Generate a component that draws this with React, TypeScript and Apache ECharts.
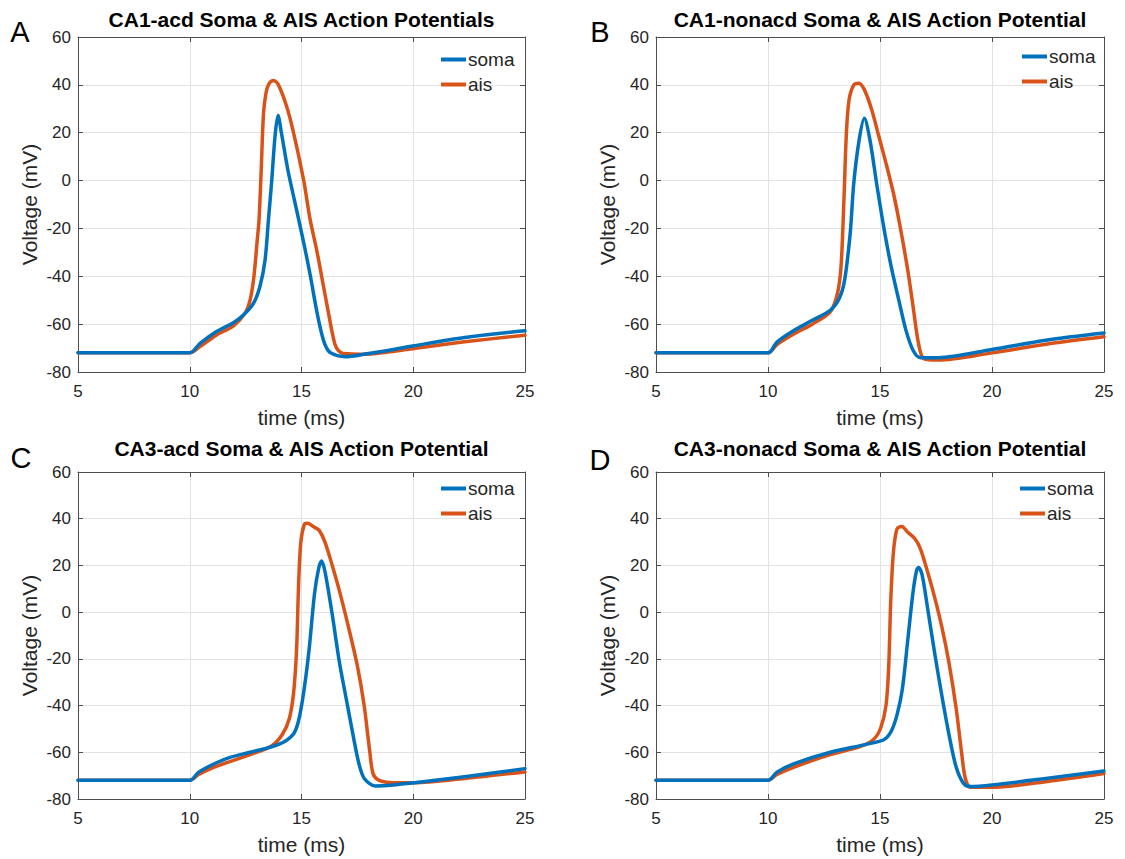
import React, { useEffect, useRef } from "react";
import * as echarts from "echarts";

// ---------- data (time ms, voltage mV) ----------
const titles = [
  "CA1-acd Soma & AIS Action Potentials",
  "CA1-nonacd Soma & AIS Action Potential",
  "CA3-acd Soma & AIS Action Potential",
  "CA3-nonacd Soma & AIS Action Potential",
];
const letters = ["A", "B", "C", "D"];
const seriesNames = ["soma", "ais"];
const xTicks = [5, 10, 15, 20, 25];
const yTicks = [-80, -60, -40, -20, 0, 20, 40, 60];

const somaA = [[5,-72],[10,-72],[10.46,-68],[11.2,-63.1],[11.95,-59.4],[12.4,-56.2],[12.85,-51.3],[13.14,-44.3],[13.37,-33.2],[13.52,-16.5],[13.66,-1],[13.82,19],[13.95,27.2],[14.1,20],[14.4,4],[14.75,-11],[15.1,-26],[15.4,-40],[15.65,-53],[15.85,-62],[16.05,-68.5],[16.3,-72],[16.95,-73.6],[17.92,-72.4],[19.4,-70.1],[20.05,-69],[22.3,-65.6],[25,-62.8]];
const aisA = [[5,-72],[10,-72],[10.46,-69.4],[11.2,-64.5],[11.95,-60.8],[12.47,-55.5],[12.7,-49.9],[12.87,-40.2],[13.02,-24.8],[13.1,-16.5],[13.2,5],[13.3,28],[13.42,37],[13.55,40.5],[13.75,41.8],[13.95,40.3],[14.3,32],[14.62,21],[15.1,0],[15.38,-16],[15.7,-30],[15.98,-44],[16.2,-55],[16.35,-62.4],[16.5,-68.5],[16.65,-71],[16.87,-72.3],[17.92,-72.6],[19.4,-71],[20.05,-70.2],[22.3,-67.4],[25,-64.6]];

const somaB = [[5,-72],[10,-72],[10.4,-67.5],[11.17,-62.6],[11.98,-58.4],[12.78,-54.2],[13.18,-49.3],[13.42,-41.6],[13.67,-22],[13.83,-1],[14.07,17],[14.3,26],[14.55,17],[14.87,-2.5],[15.19,-20.7],[15.5,-36],[15.84,-50],[16.16,-62.6],[16.48,-71],[16.8,-74],[17.6,-74],[20,-70.6],[22.4,-66.7],[25,-63.7]];
const aisB = [[5,-72],[10,-72],[10.4,-68.5],[11.17,-64],[11.98,-60],[12.78,-54.9],[13.1,-47.2],[13.26,-36],[13.39,-8],[13.5,19.8],[13.62,33.8],[13.83,40],[14.04,40.7],[14.3,38],[14.63,29.6],[14.95,18.4],[15.27,7.2],[15.6,-5.3],[15.9,-19.3],[16.24,-37.5],[16.48,-52.8],[16.72,-68.1],[16.96,-74.4],[17.6,-75],[20,-72],[22.4,-68.4],[25,-65.3]];

const somaC = [[5,-72],[10,-72],[10.4,-68.5],[11.1,-64.9],[11.8,-62.2],[12.7,-60],[13.98,-56.6],[14.62,-52.4],[14.86,-46.8],[15.1,-34.2],[15.34,-16],[15.58,7.7],[15.77,18.8],[15.9,21.9],[16.05,17.4],[16.37,-0.7],[16.7,-21.7],[17.0,-37],[17.33,-53.8],[17.57,-64.9],[17.81,-71.2],[18.3,-74.4],[19.1,-74],[20.05,-73],[22.3,-70.5],[25,-67]];
const aisC = [[5,-72],[10,-72],[10.4,-69.5],[11.1,-66.3],[12.7,-61],[13.66,-57.3],[14.14,-52.4],[14.46,-45.4],[14.65,-34.2],[14.78,-16],[14.87,11.8],[14.97,30],[15.13,37.7],[15.26,38.1],[15.58,36.3],[15.8,34.9],[16.05,30],[16.37,20.2],[16.7,9],[17.1,-6.3],[17.5,-23],[17.8,-39.8],[18.05,-59.3],[18.2,-69.1],[18.45,-71.9],[19.1,-73],[20.05,-73],[22.3,-71.2],[25,-68.4]];

const somaD = [[5,-72],[10,-72],[10.4,-68.5],[11.17,-64.9],[12.78,-60],[14.39,-56.6],[15.19,-54.5],[15.5,-51],[15.76,-44],[16.0,-32.8],[16.24,-11.9],[16.48,9],[16.64,18.1],[16.72,19.1],[16.88,16],[17.12,2],[17.44,-17.5],[17.76,-35.7],[18.08,-52.4],[18.4,-66.3],[18.73,-73.3],[19.05,-74.7],[20,-74],[22.4,-71.2],[25,-68]];
const aisD = [[5,-72],[10,-72],[10.4,-69.5],[11.17,-66.3],[12.78,-61],[14.07,-57.7],[14.71,-54.5],[15.03,-49.6],[15.27,-39.8],[15.39,-23],[15.48,4.9],[15.6,25.8],[15.76,35.6],[15.97,36.7],[16.24,34.2],[16.56,31.4],[16.8,27.2],[17.12,17.4],[17.44,6.3],[17.76,-6.3],[18.08,-21.7],[18.4,-41.2],[18.65,-60.7],[18.81,-71.2],[19.05,-75],[20,-75],[22.4,-72.6],[25,-69.1]];

const panelData = [
  [somaA, aisA],
  [somaB, aisB],
  [somaC, aisC],
  [somaD, aisD],
];

// ---------- layout ----------
const FONT = "'Liberation Sans', Arial, Helvetica, sans-serif";
const COLORS = ["#0072BD", "#D95319"];
const grids = [
  { left: 78, top: 37, width: 447, height: 335 },
  { left: 656, top: 37, width: 448, height: 335 },
  { left: 78, top: 472, width: 447, height: 327 },
  { left: 656, top: 472, width: 448, height: 327 },
];
const legendPos = [
  { left: 441, top: 50 },
  { left: 1022, top: 47 },
  { left: 441, top: 479 },
  { left: 1020, top: 479 },
];
const titlePos = [
  { x: 301.5, y: 19 },
  { x: 880, y: 19 },
  { x: 301.5, y: 448 },
  { x: 880, y: 448 },
];
const letterPos = [
  { x: 20, y: 32 },
  { x: 600, y: 32 },
  { x: 21, y: 458 },
  { x: 600, y: 460 },
];

const AXIS_COLOR = "#4d4d4d";
const TEXT_COLOR = "#262626";

function buildOption() {
  const xAxis: any[] = [];
  const yAxis: any[] = [];
  const series: any[] = [];
  const legend: any[] = [];
  const graphic: any[] = [];

  grids.forEach((g, i) => {
    const common = {
      type: "value",
      gridIndex: i,
      axisLine: { show: true, onZero: false, lineStyle: { color: AXIS_COLOR, width: 1 } },
      axisTick: { show: true, inside: true, length: 5, lineStyle: { color: AXIS_COLOR } },
    };
    xAxis.push({
      ...common,
      position: "bottom",
      min: xTicks[0],
      max: xTicks[xTicks.length - 1],
      interval: 5,
      name: "time (ms)",
      nameLocation: "middle",
      nameGap: 35,
      nameTextStyle: { fontFamily: FONT, fontSize: 21, color: TEXT_COLOR },
      axisLabel: { fontFamily: FONT, fontSize: 17, color: TEXT_COLOR, margin: 11, showMinLabel: true, showMaxLabel: true },
      splitLine: { show: true, lineStyle: { color: "#e3e3e3", width: 1 } },
    });
    xAxis.push({
      ...common,
      position: "top",
      min: xTicks[0],
      max: xTicks[xTicks.length - 1],
      interval: 5,
      axisLabel: { show: false },
      splitLine: { show: false },
    });
    yAxis.push({
      ...common,
      position: "left",
      min: yTicks[0],
      max: yTicks[yTicks.length - 1],
      interval: 20,
      name: "Voltage (mV)",
      nameLocation: "middle",
      nameGap: 38,
      nameTextStyle: { fontFamily: FONT, fontSize: 21, color: TEXT_COLOR },
      axisLabel: { fontFamily: FONT, fontSize: 17, color: TEXT_COLOR, margin: 7, showMinLabel: true, showMaxLabel: true },
      splitLine: { show: true, lineStyle: { color: "#e3e3e3", width: 1 } },
    });
    yAxis.push({
      ...common,
      position: "right",
      min: yTicks[0],
      max: yTicks[yTicks.length - 1],
      interval: 20,
      axisLabel: { show: false },
      splitLine: { show: false },
    });

    panelData[i].forEach((d, k) => {
      series.push({
        type: "line",
        name: seriesNames[k],
        xAxisIndex: i * 2,
        yAxisIndex: i * 2,
        data: d,
        showSymbol: false,
        symbol: "none",
        smooth: 0.3,
        lineStyle: { color: COLORS[k], width: 3.5, join: "round", cap: "round" },
        itemStyle: { color: COLORS[k] },
        z: k === 0 ? 3 : 2,
      });
    });

    legend.push({
      left: legendPos[i].left,
      top: legendPos[i].top,
      padding: 0,
      orient: "vertical",
      data: seriesNames.map((n, k) => ({ name: n, icon: "rect", itemStyle: { color: COLORS[k] } })),
      itemWidth: 25,
      itemHeight: 4,
      itemGap: 6,
      selectedMode: false,
      textStyle: { fontFamily: FONT, fontSize: 19, color: TEXT_COLOR, lineHeight: 19, padding: [0, 0, 0, -3] },
    });

    graphic.push({
      type: "text",
      x: titlePos[i].x,
      y: titlePos[i].y,
      style: {
        text: titles[i],
        fontFamily: FONT,
        fontSize: 21,
        fontWeight: "bold",
        fill: "#000",
        align: "center",
        verticalAlign: "middle",
      },
    });
    graphic.push({
      type: "text",
      x: letterPos[i].x,
      y: letterPos[i].y,
      style: {
        text: letters[i],
        fontFamily: FONT,
        fontSize: 29,
        fill: "#000",
        align: "center",
        verticalAlign: "middle",
      },
    });
  });

  return {
    animation: false,
    backgroundColor: "#fff",
    grid: grids.map((g) => ({ ...g, containLabel: false })),
    xAxis,
    yAxis,
    series,
    legend,
    graphic,
  };
}

export default function App() {
  const ref = useRef<HTMLDivElement>(null);
  useEffect(() => {
    document.body.style.margin = "0";
    const chart = echarts.init(ref.current!, undefined, { renderer: "svg" });
    chart.setOption(buildOption() as any);
    return () => chart.dispose();
  }, []);
  return (
    <div
      ref={ref}
      style={{ position: "absolute", left: 0, top: 0, width: 1125, height: 859 }}
    />
  );
}
